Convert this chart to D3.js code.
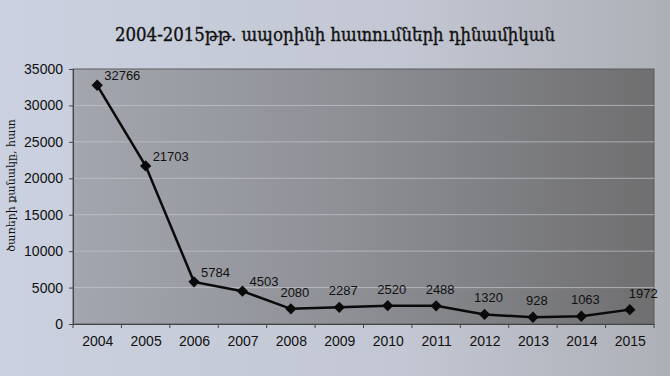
<!DOCTYPE html>
<html>
<head>
<meta charset="utf-8">
<script src="https://cdn.jsdelivr.net/npm/d3@7"></script>
<style>
  body { margin: 0; background: #c6cad4; }
  svg { display: block; }
</style>
</head>
<body>
<script>
var years = ['2004', '2005', '2006', '2007', '2008', '2009', '2010', '2011', '2012', '2013', '2014', '2015'];
var trees = [32766, 21703, 5784, 4503, 2080, 2287, 2520, 2488, 1320, 928, 1063, 1972];
var yTicks = [0, 5000, 10000, 15000, 20000, 25000, 30000, 35000];

var width = 670;
var height = 376;
var margin = { top: 69, right: 16, bottom: 52, left: 73 };
var innerW = width - margin.left - margin.right;
var innerH = height - margin.top - margin.bottom;

var svg = d3.select('body').append('svg')
    .attr('width', width)
    .attr('height', height);

var defs = svg.append('defs');
var pageGrad = defs.append('linearGradient').attr('id', 'page');
pageGrad.append('stop').attr('offset', '0%').attr('stop-color', '#cbd1e0');
pageGrad.append('stop').attr('offset', '60%').attr('stop-color', '#c3c7d3');
pageGrad.append('stop').attr('offset', '100%').attr('stop-color', '#aeb0b7');

var plotGrad = defs.append('linearGradient').attr('id', 'plot');
plotGrad.append('stop').attr('offset', '0%').attr('stop-color', '#a3a6ae');
plotGrad.append('stop').attr('offset', '45%').attr('stop-color', '#8f9197');
plotGrad.append('stop').attr('offset', '100%').attr('stop-color', '#6f6f70');

svg.append('rect')
    .attr('width', width)
    .attr('height', height)
    .attr('fill', 'url(#page)');

svg.append('text')
    .attr('x', 335)
    .attr('y', 41)
    .attr('text-anchor', 'middle')
    .attr('font-family', 'DejaVu Serif, serif')
    .attr('font-size', 19)
    .attr('textLength', 440)
    .attr('lengthAdjust', 'spacingAndGlyphs')
    .attr('fill', '#111')
    .attr('stroke', '#111')
    .attr('stroke-width', 0.4)
    .text('2004-2015թթ. ապօրինի հատումների դինամիկան');

var g = svg.append('g')
    .attr('transform', 'translate(' + margin.left + ',' + margin.top + ')');

var x = d3.scalePoint()
    .domain(years)
    .range([0, innerW])
    .padding(0.5);

var y = d3.scaleLinear()
    .domain([0, 35000])
    .range([innerH, 0]);

g.append('rect')
    .attr('width', innerW)
    .attr('height', innerH)
    .attr('fill', 'url(#plot)')
    .attr('stroke', '#5c5c5e')
    .attr('stroke-width', 1);

g.selectAll('.grid')
    .data(yTicks.filter(function(d) { return d > 0 && d < 35000; }))
    .enter()
        .append('line')
        .attr('class', 'grid')
        .attr('x1', 0)
        .attr('x2', innerW)
        .attr('y1', function(d) { return y(d); })
        .attr('y2', function(d) { return y(d); })
        .attr('stroke', '#c4c6cc')
        .attr('stroke-opacity', 0.7)
        .attr('stroke-width', 1);

var yAxis = d3.axisLeft(y)
    .tickValues(yTicks)
    .tickSize(4)
    .tickPadding(6)
    .tickFormat(d3.format('d'));

var yg = g.append('g').call(yAxis);
yg.select('.domain').attr('stroke', '#444');
yg.selectAll('.tick line').attr('stroke', '#444');
yg.selectAll('text')
    .attr('font-family', 'Liberation Sans, Arial, sans-serif')
    .attr('font-size', 14)
    .attr('fill', '#111');

var xAxis = d3.axisBottom(x)
    .tickSize(0)
    .tickPadding(12);

var xg = g.append('g')
    .attr('transform', 'translate(0,' + innerH + ')')
    .call(xAxis);
xg.select('.domain').attr('stroke', '#444');
xg.selectAll('text')
    .attr('font-family', 'Liberation Sans, Arial, sans-serif')
    .attr('font-size', 14)
    .attr('fill', '#111');

// category separators on the x axis
var step = x.step();
g.selectAll('.xsep')
    .data(years.concat(['end']))
    .enter()
        .append('line')
        .attr('class', 'xsep')
        .attr('x1', function(d, i) { return i * step; })
        .attr('x2', function(d, i) { return i * step; })
        .attr('y1', innerH)
        .attr('y2', innerH + 4)
        .attr('stroke', '#444');

svg.append('text')
    .attr('transform', 'translate(15,' + (margin.top + innerH / 2 - 11) + ') rotate(-90)')
    .attr('text-anchor', 'middle')
    .attr('font-family', 'DejaVu Serif, serif')
    .attr('font-size', 11)
    .attr('fill', '#111')
    .text('ծառերի քանակը, հատ');

var line = d3.line()
    .x(function(d, i) { return x(years[i]); })
    .y(function(d) { return y(d); });

g.append('path')
    .datum(trees)
    .attr('d', line)
    .attr('fill', 'none')
    .attr('stroke', '#0a0a0a')
    .attr('stroke-width', 2.5);

g.selectAll('.marker')
    .data(trees)
    .enter()
        .append('path')
        .attr('class', 'marker')
        .attr('d', d3.symbol().type(d3.symbolSquare).size(64))
        .attr('transform', function(d, i) {
            return 'translate(' + x(years[i]) + ',' + y(d) + ') rotate(45)';
        })
        .attr('fill', '#0a0a0a');

g.selectAll('.label')
    .data(trees)
    .enter()
        .append('text')
        .attr('class', 'label')
        .attr('x', function(d, i) {
            if (i < 4) return x(years[i]) + 7;
            if (i === years.length - 1) return x(years[i]) - 1;
            return x(years[i]) + 4;
        })
        .attr('y', function(d, i) { return y(d) - (i < 4 ? 5 : 12); })
        .attr('text-anchor', function(d, i) {
            return (i < 4 || i === years.length - 1) ? 'start' : 'middle';
        })
        .attr('font-family', 'Liberation Sans, Arial, sans-serif')
        .attr('font-size', 13)
        .attr('fill', '#111')
        .text(function(d) { return d; });
</script>
</body>
</html>
